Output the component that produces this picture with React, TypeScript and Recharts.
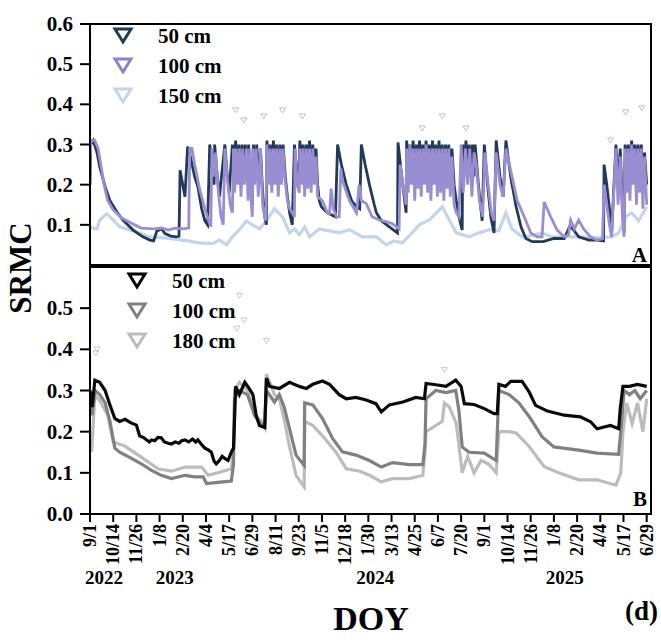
import React from "react";
import { ComposedChart, Line, XAxis, YAxis, ReferenceArea, Scatter } from "recharts";

// x = days since 9/1/2022, y = SRMC
const dateTicks = [0, 43, 86, 129, 172, 215, 258, 301, 344, 387, 430, 473, 516, 559, 602, 645, 688, 731, 774, 817, 860, 903, 946, 989, 1032];
const dateLabels = ["9/1", "10/14", "11/26", "1/8", "2/20", "4/4", "5/17", "6/29", "8/11", "9/23", "11/5", "12/18", "1/30", "3/13", "4/25", "6/7", "7/20", "9/1", "10/14", "11/26", "1/8", "2/20", "4/4", "5/17", "6/29"];
const yearDays = [26, 157, 529, 880];
const yearLabels = ["2022", "2023", "2024", "2025"];
const yTicksA = [0, 0.1, 0.2, 0.3, 0.4, 0.5, 0.6];
const yTicksB = [0, 0.1, 0.2, 0.3, 0.4, 0.5];

// panel A
const a50: [number, number][] = [
  [0, 0.2], [1, 0.3], [6, 0.31], [13, 0.28], [18, 0.245], [28, 0.195], [37, 0.16], [50, 0.132], [61, 0.112], [80, 0.087], [98, 0.07], [111, 0.062], [118, 0.06], [124, 0.085], [133, 0.09], [139, 0.078], [150, 0.072], [160, 0.07], [165, 0.072],
  [167, 0.236], [172, 0.2], [176, 0.17],
  [181, 0.295], [186, 0.27], [194, 0.22], [200, 0.195], [207, 0.14], [213, 0.11], [218, 0.1],
  [222, 0.3], [226, 0.25], [230, 0.2], [231, 0.3], [236, 0.22], [240, 0.17], [250, 0.3], [254, 0.23], [258, 0.18],
  [264, 0.3], [267, 0.24], [270, 0.31], [273, 0.23], [276, 0.3], [279, 0.22], [282, 0.3], [285, 0.25], [288, 0.3], [291, 0.22], [294, 0.3], [298, 0.2], [301, 0.15],
  [303, 0.3], [306, 0.22], [309, 0.3], [313, 0.2], [316, 0.29], [320, 0.18], [324, 0.12], [327, 0.1],
  [328, 0.31], [331, 0.24], [334, 0.3], [337, 0.22], [340, 0.31], [343, 0.24], [346, 0.3], [349, 0.22], [352, 0.3], [355, 0.25], [358, 0.3], [362, 0.22], [366, 0.17], [370, 0.13], [375, 0.1],
  [379, 0.3], [383, 0.24], [387, 0.2],
  [389, 0.31], [392, 0.24], [395, 0.3], [398, 0.22], [401, 0.3], [404, 0.24], [407, 0.31], [410, 0.22], [413, 0.3], [416, 0.24], [419, 0.29], [422, 0.2], [425, 0.16], [429, 0.145], [440, 0.13], [455, 0.12],
  [459, 0.3], [466, 0.25], [475, 0.2], [485, 0.16], [494, 0.145], [500, 0.14],
  [503, 0.3], [510, 0.25], [518, 0.2], [527, 0.15], [531, 0.13], [540, 0.11], [555, 0.095], [570, 0.08],
  [571, 0.305], [578, 0.22], [586, 0.13],
  [587, 0.31], [590, 0.24], [593, 0.3], [596, 0.23], [599, 0.31], [602, 0.22], [605, 0.3], [608, 0.24], [611, 0.31], [614, 0.22], [617, 0.3], [620, 0.24], [623, 0.31], [626, 0.22], [629, 0.3], [632, 0.23], [635, 0.31], [638, 0.24], [641, 0.3], [644, 0.22], [647, 0.31], [650, 0.23], [653, 0.3], [656, 0.22], [659, 0.3], [662, 0.24], [665, 0.3], [668, 0.22], [671, 0.29], [675, 0.2], [679, 0.16], [684, 0.12], [690, 0.087],
  [691, 0.3], [694, 0.24], [697, 0.31], [700, 0.23], [703, 0.3], [706, 0.24], [709, 0.3], [712, 0.22],
  [714, 0.3], [720, 0.2], [727, 0.11], [731, 0.3], [737, 0.2], [743, 0.12], [749, 0.08], [753, 0.31], [760, 0.22], [766, 0.17],
  [771, 0.31], [781, 0.21], [790, 0.145], [799, 0.095], [808, 0.066], [820, 0.058], [840, 0.058], [860, 0.066], [879, 0.066], [889, 0.095], [895, 0.09], [906, 0.07], [925, 0.062], [940, 0.062], [952, 0.06],
  [953, 0.25], [958, 0.2], [963, 0.14], [967, 0.08], [975, 0.3], [979, 0.2], [983, 0.29], [987, 0.15], [990, 0.08],
  [992, 0.3], [995, 0.24], [998, 0.3], [1001, 0.22], [1004, 0.31], [1007, 0.24], [1010, 0.3], [1013, 0.22], [1016, 0.3], [1019, 0.2], [1022, 0.3], [1025, 0.22], [1028, 0.28], [1032, 0.2],
];
const a100: [number, number][] = [
  [0, 0.27], [2, 0.31], [9, 0.31], [15, 0.29], [20, 0.25], [26, 0.2], [33, 0.16], [43, 0.137], [59, 0.117], [77, 0.104], [95, 0.092], [120, 0.09], [133, 0.092], [145, 0.087], [157, 0.092], [172, 0.09], [183, 0.092],
  [185, 0.29], [189, 0.29], [194, 0.25], [203, 0.19], [213, 0.14], [220, 0.11], [224, 0.095],
  [226, 0.29], [230, 0.22], [233, 0.28], [238, 0.18], [243, 0.12], [247, 0.1], [250, 0.29], [255, 0.21], [260, 0.15], [264, 0.13],
  [266, 0.29], [268, 0.18], [271, 0.29], [274, 0.2], [277, 0.29], [280, 0.17], [283, 0.29], [286, 0.2], [290, 0.29], [293, 0.16], [296, 0.29], [299, 0.15], [301, 0.12],
  [302, 0.29], [305, 0.2], [308, 0.29], [312, 0.17], [316, 0.29], [320, 0.15], [324, 0.12], [326, 0.11],
  [328, 0.3], [331, 0.2], [334, 0.29], [337, 0.18], [340, 0.29], [343, 0.2], [346, 0.29], [349, 0.17], [352, 0.29], [355, 0.2], [358, 0.29], [361, 0.22], [366, 0.16], [370, 0.14], [375, 0.13], [379, 0.12],
  [380, 0.29], [384, 0.2], [388, 0.18],
  [389, 0.29], [392, 0.2], [395, 0.29], [398, 0.17], [401, 0.29], [404, 0.19], [407, 0.29], [410, 0.18], [413, 0.29], [416, 0.2], [419, 0.27], [422, 0.17], [431, 0.16], [440, 0.13], [444, 0.128], [447, 0.19], [451, 0.14], [457, 0.12], [462, 0.12],
  [465, 0.24], [468, 0.21], [481, 0.16], [494, 0.13], [499, 0.2], [503, 0.16], [512, 0.153], [523, 0.12], [536, 0.112], [549, 0.108], [560, 0.103], [573, 0.09],
  [575, 0.25], [580, 0.2], [586, 0.15],
  [587, 0.29], [590, 0.18], [593, 0.3], [596, 0.2], [599, 0.29], [602, 0.16], [605, 0.29], [608, 0.19], [611, 0.29], [614, 0.17], [617, 0.29], [620, 0.2], [623, 0.3], [626, 0.18], [629, 0.29], [632, 0.16], [635, 0.29], [638, 0.2], [641, 0.29], [644, 0.17], [647, 0.29], [650, 0.18], [653, 0.29], [656, 0.16], [659, 0.29], [662, 0.19], [665, 0.29], [668, 0.17], [671, 0.27], [675, 0.15], [679, 0.13], [684, 0.12],
  [688, 0.3], [692, 0.18], [696, 0.29], [700, 0.2], [704, 0.29], [708, 0.17], [712, 0.28],
  [716, 0.25], [722, 0.16], [728, 0.12], [732, 0.28], [738, 0.2], [744, 0.13], [749, 0.11], [753, 0.28], [760, 0.2], [766, 0.17],
  [771, 0.29], [781, 0.228], [792, 0.16], [805, 0.12], [817, 0.08], [829, 0.07], [838, 0.07], [842, 0.157], [854, 0.12], [866, 0.087], [879, 0.07], [887, 0.075], [891, 0.112], [898, 0.09], [906, 0.112], [915, 0.09], [928, 0.07], [940, 0.062], [950, 0.065],
  [953, 0.2], [958, 0.15], [963, 0.1], [967, 0.07], [975, 0.29], [979, 0.15], [983, 0.27], [987, 0.12], [990, 0.07],
  [992, 0.29], [995, 0.18], [998, 0.29], [1001, 0.16], [1004, 0.3], [1007, 0.2], [1010, 0.29], [1013, 0.15], [1016, 0.29], [1019, 0.18], [1022, 0.29], [1025, 0.14], [1028, 0.27], [1032, 0.15],
];
const a150: [number, number][] = [
  [0, 0.093], [13, 0.09], [18, 0.112], [31, 0.128], [43, 0.112], [55, 0.095], [68, 0.09], [80, 0.085], [111, 0.07], [142, 0.067], [172, 0.062], [203, 0.055], [227, 0.053], [240, 0.062], [253, 0.05], [264, 0.07], [277, 0.088], [290, 0.11], [301, 0.1], [314, 0.09], [327, 0.11], [342, 0.14], [357, 0.12], [370, 0.08], [379, 0.09], [388, 0.075], [398, 0.095], [407, 0.07], [425, 0.09], [444, 0.085], [462, 0.08], [481, 0.088], [505, 0.07], [531, 0.07], [549, 0.05], [564, 0.06], [579, 0.055], [597, 0.08], [610, 0.1], [629, 0.112], [642, 0.13], [653, 0.145], [666, 0.112], [679, 0.08], [703, 0.07], [721, 0.08], [740, 0.088], [758, 0.085], [771, 0.13], [782, 0.09], [801, 0.07], [814, 0.072], [838, 0.08], [856, 0.07], [875, 0.07], [906, 0.07], [938, 0.068], [967, 0.07], [980, 0.08], [993, 0.12], [1004, 0.13], [1017, 0.11], [1032, 0.145],
];
const aStray: [number, number][] = [
  [270, 0.385], [285, 0.36], [322, 0.37], [357, 0.385], [394, 0.37], [616, 0.34], [653, 0.37], [697, 0.34], [965, 0.31], [993, 0.38], [1023, 0.39],
];

// panel B
const b50: [number, number][] = [
  [0, 0.3], [4, 0.26], [9, 0.325], [18, 0.32], [28, 0.3], [37, 0.265], [46, 0.232], [55, 0.225], [65, 0.23], [75, 0.222], [86, 0.216], [92, 0.19], [100, 0.185], [105, 0.18], [110, 0.175], [114, 0.18], [120, 0.178], [126, 0.186], [132, 0.185], [138, 0.175], [145, 0.172], [151, 0.17], [158, 0.175], [165, 0.172], [170, 0.178], [176, 0.18], [183, 0.175], [190, 0.182], [196, 0.175], [200, 0.18], [206, 0.17], [213, 0.16], [220, 0.155], [225, 0.15], [230, 0.128], [234, 0.122], [240, 0.13], [245, 0.14], [250, 0.135], [256, 0.13], [262, 0.15], [266, 0.16],
  [268, 0.23], [270, 0.31], [277, 0.29], [287, 0.32], [295, 0.305], [302, 0.29], [308, 0.24], [314, 0.215], [324, 0.21],
  [327, 0.33], [333, 0.31], [351, 0.305], [370, 0.32], [388, 0.31], [401, 0.305], [413, 0.315], [431, 0.323], [444, 0.315], [462, 0.29], [475, 0.28], [493, 0.283], [512, 0.277], [530, 0.268], [540, 0.248], [555, 0.265], [580, 0.272], [604, 0.283], [620, 0.28],
  [623, 0.317], [641, 0.314], [660, 0.31], [678, 0.325], [688, 0.31], [694, 0.268], [712, 0.266], [731, 0.256], [749, 0.244], [755, 0.244],
  [758, 0.315], [770, 0.31], [780, 0.322], [801, 0.322], [814, 0.297], [826, 0.264], [848, 0.25], [879, 0.24], [909, 0.236], [928, 0.224], [940, 0.207], [965, 0.215], [980, 0.207], [983, 0.256], [988, 0.31], [1000, 0.31], [1015, 0.315], [1032, 0.31],
];
const b100: [number, number][] = [
  [0, 0.27], [4, 0.24], [9, 0.3], [18, 0.29], [28, 0.27], [37, 0.225], [46, 0.16], [55, 0.15], [77, 0.135], [95, 0.122], [114, 0.106], [132, 0.094], [151, 0.086], [176, 0.094], [194, 0.09], [210, 0.09], [216, 0.074], [237, 0.077], [262, 0.08], [266, 0.12],
  [268, 0.28], [277, 0.3], [292, 0.29], [305, 0.24], [318, 0.215], [324, 0.22], [327, 0.3], [342, 0.272], [351, 0.29], [360, 0.26], [370, 0.207], [382, 0.143], [397, 0.118],
  [398, 0.27], [413, 0.265], [431, 0.232], [450, 0.183], [468, 0.151], [493, 0.143], [518, 0.13], [540, 0.114], [561, 0.125], [592, 0.12], [617, 0.12], [621, 0.17],
  [623, 0.28], [641, 0.3], [660, 0.295], [678, 0.3], [684, 0.25], [690, 0.163], [703, 0.15], [731, 0.148], [753, 0.13],
  [758, 0.3], [777, 0.29], [795, 0.27], [814, 0.237], [838, 0.188], [860, 0.163], [906, 0.155], [940, 0.148], [980, 0.145], [984, 0.2], [990, 0.3], [1000, 0.29], [1010, 0.3], [1020, 0.28], [1032, 0.3],
];
const b180: [number, number][] = [
  [0, 0.2], [3, 0.15], [9, 0.29], [18, 0.275], [33, 0.24], [43, 0.175], [65, 0.165], [95, 0.138], [126, 0.11], [151, 0.104], [176, 0.114], [207, 0.114], [219, 0.094], [237, 0.1], [262, 0.11], [266, 0.15],
  [268, 0.3], [277, 0.32], [292, 0.3], [305, 0.24], [318, 0.225], [324, 0.21], [327, 0.34], [342, 0.29], [351, 0.28], [360, 0.23], [370, 0.163], [382, 0.094], [397, 0.066],
  [398, 0.225], [413, 0.215], [431, 0.19], [456, 0.15], [475, 0.11], [500, 0.104], [518, 0.094], [540, 0.078], [561, 0.086], [592, 0.086], [617, 0.094], [621, 0.15],
  [623, 0.2], [641, 0.215], [653, 0.225], [657, 0.27], [666, 0.26], [679, 0.22], [690, 0.1], [700, 0.14], [712, 0.1], [725, 0.13], [740, 0.12], [753, 0.1],
  [758, 0.2], [777, 0.2], [790, 0.197], [814, 0.164], [842, 0.115], [869, 0.1], [906, 0.083], [940, 0.083], [975, 0.07], [984, 0.1], [988, 0.2], [995, 0.27], [1005, 0.22], [1015, 0.27], [1025, 0.2], [1032, 0.28],
];
const bStray: [number, number][] = [
  [11, 0.39], [13, 0.4], [272, 0.45], [277, 0.53], [285, 0.47], [327, 0.42], [657, 0.35],
];

const pts = (arr: [number, number][]) => arr.map(([x, y]) => ({ x, y }));

const FONT = "'Liberation Serif', 'Times New Roman', serif";
const X_DOMAIN: [number, number] = [0, 1040];

function DateTick({ x, y, index }: any) {
  return (
    <text x={x} y={y} transform={`rotate(-90 ${x} ${y})`} textAnchor="end" dy="0.34em"
      fontFamily={FONT} fontWeight="bold" fontSize={18} fill="#000">
      {dateLabels[index]}
    </text>
  );
}

function YearTick({ x, y, index }: any) {
  return (
    <text x={x} y={y} textAnchor="middle" dy={12} fontFamily={FONT} fontWeight="bold" fontSize={19} fill="#000">
      {yearLabels[index]}
    </text>
  );
}

function ValueTick({ x, y, payload }: any) {
  return (
    <text x={x - 5} y={y} textAnchor="end" dy="0.34em" fontFamily={FONT} fontWeight="bold" fontSize={21} fill="#000">
      {Number(payload.value).toFixed(1)}
    </text>
  );
}

const stray = (color: string) => (p: any) => (
  <path d={`M${p.cx - 3},${p.cy - 2.5} L${p.cx + 3},${p.cy - 2.5} L${p.cx},${p.cy + 2.5} Z`} fill="none" stroke={color} strokeWidth={0.8} />
);

function Legend({ x, y, items }: { x: number; y: number; items: { label: string; color: string }[] }) {
  return (
    <g>
      {items.map((it, i) => (
        <g key={i}>
          <path d={`M${x - 8},${y + i * 30 - 6} L${x + 8},${y + i * 30 - 6} L${x},${y + i * 30 + 7} Z`} fill="none" stroke={it.color} strokeWidth={3} />
          <text x={x + 35} y={y + i * 30 + 8} fontFamily={FONT} fontWeight="bold" fontSize={21} fill="#000">{it.label}</text>
        </g>
      ))}
    </g>
  );
}

export default function App() {
  return (
    <div style={{ position: "absolute", left: 0, top: 0, width: 661, height: 642, background: "#fff" }}>
      {/* panel B (with date axis) */}
      <div style={{ position: "absolute", left: 0, top: 0 }}>
        <ComposedChart width={661} height={642} margin={{ top: 267, right: 10, bottom: 54, left: 0 }}>
          <XAxis dataKey="x" type="number" domain={X_DOMAIN} ticks={dateTicks} interval={0} tick={<DateTick />}
            tickSize={8} height={50} stroke="#000" strokeWidth={2} allowDataOverflow />
          <XAxis xAxisId="yr" dataKey="x" type="number" domain={X_DOMAIN} ticks={yearDays} interval={0} tick={<YearTick />}
            axisLine={false} tickLine={false} height={24} allowDataOverflow />
          <YAxis type="number" domain={[0, 0.6]} ticks={yTicksB} tick={<ValueTick />}
            width={90} tickSize={10} stroke="#000" strokeWidth={2} allowDataOverflow />
          <ReferenceArea x1={0} x2={1040} y1={0} y2={0.6} fill="none" stroke="#000" strokeWidth={2} ifOverflow="visible" />
          <Scatter data={pts(bStray)} dataKey="y" shape={stray("#bdbdbd")} isAnimationActive={false} />
          <Line data={pts(b180)} dataKey="y" type="linear" stroke="#bcbcbc" strokeWidth={3.2} dot={false} isAnimationActive={false} />
          <Line data={pts(b100)} dataKey="y" type="linear" stroke="#808080" strokeWidth={3.2} dot={false} isAnimationActive={false} />
          <Line data={pts(b50)} dataKey="y" type="linear" stroke="#0a0a0a" strokeWidth={3.2} dot={false} isAnimationActive={false} />
        </ComposedChart>
      </div>
      {/* panel A */}
      <div style={{ position: "absolute", left: 0, top: 0 }}>
        <ComposedChart width={661} height={272} margin={{ top: 24, right: 10, bottom: 7, left: 0 }}>
          <XAxis dataKey="x" type="number" domain={X_DOMAIN} hide allowDataOverflow />
          <YAxis type="number" domain={[0, 0.6]} ticks={yTicksA} tick={<ValueTick />}
            width={90} tickSize={10} stroke="#000" strokeWidth={2} allowDataOverflow />
          <ReferenceArea x1={0} x2={1040} y1={0} y2={0.6} fill="none" stroke="#000" strokeWidth={2} ifOverflow="visible" />
          <Scatter data={pts(aStray)} dataKey="y" shape={stray("#a9b0c8")} isAnimationActive={false} />
          <Line data={pts(a150)} dataKey="y" type="linear" stroke="#c4d4ea" strokeWidth={3.2} dot={false} isAnimationActive={false} />
          <Line data={pts(a50)} dataKey="y" type="linear" stroke="#203a58" strokeWidth={2.8} dot={false} isAnimationActive={false} />
          <Line data={pts(a100)} dataKey="y" type="linear" stroke="#9a8ed2" strokeWidth={2.8} dot={false} isAnimationActive={false} />
        </ComposedChart>
      </div>
      {/* labels */}
      <svg width={661} height={642} style={{ position: "absolute", left: 0, top: 0, pointerEvents: "none" }}>
        <Legend x={123} y={35} items={[{ label: "50 cm", color: "#1f3a57" }, { label: "100 cm", color: "#9080c8" }, { label: "150 cm", color: "#c4d4ea" }]} />
        <Legend x={137} y={280} items={[{ label: "50 cm", color: "#000" }, { label: "100 cm", color: "#808080" }, { label: "180 cm", color: "#bcbcbc" }]} />
        <text x={647} y={262} textAnchor="end" fontFamily={FONT} fontWeight="bold" fontSize={21}>A</text>
        <text x={647} y={506} textAnchor="end" fontFamily={FONT} fontWeight="bold" fontSize={21}>B</text>
        <text x={31} y={268} transform="rotate(-90 31 268)" textAnchor="middle" fontFamily={FONT} fontWeight="bold" fontSize={31}>SRMC</text>
        <text x={371} y={630} textAnchor="middle" fontFamily={FONT} fontWeight="bold" fontSize={34}>DOY</text>
        <text x={658} y={620} textAnchor="end" fontFamily={FONT} fontWeight="bold" fontSize={27}>(d)</text>
      </svg>
    </div>
  );
}
